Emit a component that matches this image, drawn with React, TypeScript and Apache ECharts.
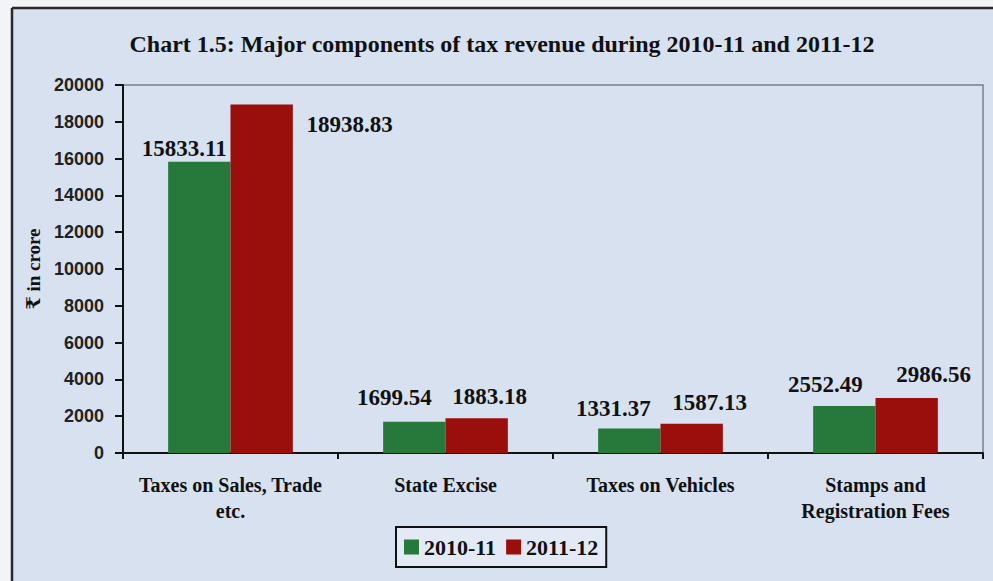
import React, { useEffect, useRef } from "react";
import * as echarts from "echarts";

const categories = [
  "Taxes on Sales, Trade\netc.",
  "State Excise",
  "Taxes on Vehicles",
  "Stamps and\nRegistration Fees",
];
const series2010 = [15833.11, 1699.54, 1331.37, 2552.49];
const series2011 = [18938.83, 1883.18, 1587.13, 2986.56];
const seriesNames = ["2010-11", "2011-12"];
const yTicks = { min: 0, max: 20000, interval: 2000 };

// label offsets (style only)
const offsets2010 = [[-15, 3], [-20, -8], [-16, -4], [-19, -5]];
const offsets2011 = [[88, 36], [13, -5], [18, -5], [27, -7]];

const SERIF = "'Liberation Serif', 'Times New Roman', 'DejaVu Serif', serif";
const SANS = "'Liberation Sans', Arial, 'DejaVu Sans', sans-serif";

export default function App() {
  const ref = useRef<HTMLDivElement>(null);
  useEffect(() => {
    if (!ref.current) return;
    const chart = echarts.init(ref.current, null, { renderer: "svg" });
    const mkData = (vals: number[], offs: number[][]) =>
      vals.map((v, i) => ({
        value: v,
        label: { offset: offs[i] },
      }));
    const labelStyle = {
      show: true,
      position: "top",
      distance: 5,
      fontFamily: SERIF,
      fontWeight: "bold",
      fontSize: 23,
      color: "#111",
      formatter: (p: any) => p.value.toFixed(2),
    };
    chart.setOption({
      animation: false,
      backgroundColor: "#d7e1ef",
      title: {
        text: "Chart 1.5: Major components of tax revenue during 2010-11 and 2011-12",
        left: 497,
        textAlign: "center",
        top: 27,
        textStyle: {
          fontFamily: SERIF,
          fontWeight: "bold",
          fontSize: 24,
          color: "#111",
        },
      },
      graphic: [
        { type: "rect", shape: { x: 0, y: 0, width: 993, height: 7 }, style: { fill: "#f2f4f8" }, silent: true },
        { type: "rect", shape: { x: 0, y: 0, width: 11, height: 581 }, style: { fill: "#f2f4f8" }, silent: true },
        { type: "line", shape: { x1: 12, y1: 8, x2: 993, y2: 8 }, style: { stroke: "#2a2a2a", lineWidth: 2.5 }, silent: true },
        { type: "line", shape: { x1: 12, y1: 8, x2: 12, y2: 581 }, style: { stroke: "#2a2a2a", lineWidth: 2.5 }, silent: true },
      ],
      legend: {
        data: seriesNames,
        left: 396,
        top: 527,
        orient: "horizontal",
        itemWidth: 15,
        itemHeight: 15,
        itemGap: 10,
        padding: [9, 8, 9, 8],
        borderColor: "#111",
        borderWidth: 2,
        backgroundColor: "rgba(235,240,248,0.6)",
        icon: "rect",
        textStyle: {
          fontFamily: SERIF,
          fontWeight: "bold",
          fontSize: 22,
          color: "#111",
          padding: [0, 0, 0, 0],
        },
      },
      grid: {
        left: 123,
        right: 10,
        top: 85,
        bottom: 128,
        show: true,
        borderColor: "#7d7d8c",
        borderWidth: 1.5,
        backgroundColor: "transparent",
      },
      xAxis: {
        type: "category",
        data: categories,
        axisLine: { lineStyle: { color: "#111", width: 2 } },
        axisTick: { show: true, length: 6, lineStyle: { color: "#111", width: 2 } },
        axisLabel: {
          fontFamily: SERIF,
          fontWeight: "bold",
          fontSize: 20,
          lineHeight: 26,
          color: "#111",
          margin: 19,
          interval: 0,
        },
      },
      yAxis: {
        type: "value",
        min: yTicks.min,
        max: yTicks.max,
        interval: yTicks.interval,
        name: "₹ in crore",
        nameLocation: "middle",
        nameRotate: 90,
        nameGap: 69,
        nameTextStyle: {
          fontFamily: SERIF,
          fontWeight: "bold",
          fontSize: 19,
          color: "#111",
        },
        splitLine: { show: false },
        axisLine: { show: true, lineStyle: { color: "#111", width: 2 } },
        axisTick: { show: true, length: 8, lineStyle: { color: "#111", width: 2 } },
        axisLabel: {
          fontFamily: SANS,
          fontWeight: "bold",
          fontSize: 18,
          color: "#222",
          margin: 19,
          formatter: (v: number) => String(v),
        },
      },
      series: [
        {
          name: seriesNames[0],
          type: "bar",
          data: mkData(series2010, offsets2010),
          barWidth: "29%",
          barGap: "0%",
          itemStyle: { color: "#26793a" },
          label: labelStyle,
        },
        {
          name: seriesNames[1],
          type: "bar",
          data: mkData(series2011, offsets2011),
          barWidth: "29%",
          barGap: "0%",
          itemStyle: { color: "#9a0e0c" },
          label: labelStyle,
        },
      ],
    });
    return () => chart.dispose();
  }, []);
  return (
    <div
      ref={ref}
      style={{ position: "fixed", left: 0, top: 0, width: 993, height: 581 }}
    />
  );
}
